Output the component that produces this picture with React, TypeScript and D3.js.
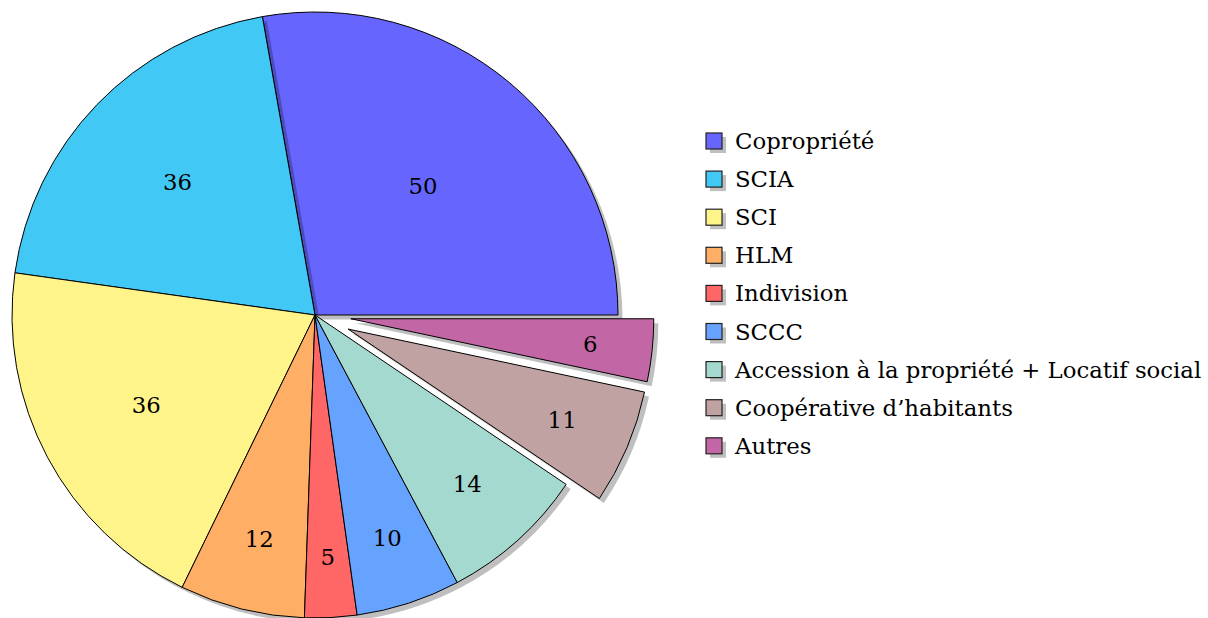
import React from 'react';
import * as d3 from 'd3';

const categories = [
  'Copropriété',
  'SCIA',
  'SCI',
  'HLM',
  'Indivision',
  'SCCC',
  'Accession à la propriété + Locatif social',
  'Coopérative d’habitants',
  'Autres',
];
const values = [50, 36, 36, 12, 5, 10, 14, 11, 6];
const colors = ['#6666ff', '#42c8f4', '#fff48a', '#ffae66', '#ff6666', '#66a3ff', '#a3d9cf', '#c1a2a3', '#c266a6'];
const exploded = [false, false, false, false, false, false, false, true, true];

const width = 1208;
const height = 618;
const cx = 315;
const cy = 315;
const radius = 303;
const explodeBy = 36;
const shadowDx = 4.5;
const shadowDy = 4.5;
const font = 'DejaVu Serif';
const fontSize = 22.8;

type Row = { label: string; value: number; color: string; explode: boolean };

const rows: Row[] = categories.map((label, i) => ({
  label,
  value: values[i],
  color: colors[i],
  explode: exploded[i],
}));

export default function App() {
  // start at 3 o'clock, go counter-clockwise (like pgf-pie)
  const pie = d3
    .pie<Row>()
    .sort(null)
    .value(d => d.value)
    .startAngle(Math.PI / 2)
    .endAngle(Math.PI / 2 - 2 * Math.PI);

  const arc = d3.arc<d3.PieArcDatum<Row>>().innerRadius(0).outerRadius(radius);

  const arcs = pie(rows);

  const legendX = 706;
  const legendY = 141;
  const legendStep = 38.1;
  const box = 16;
  const textStyle = { fontFamily: font };

  return (
    <svg
      width={width}
      height={height}
      style={{ position: 'absolute', left: 0, top: 0, background: '#fff' }}
    >
      <g transform={`translate(${cx},${cy})`}>
        {arcs.map((a, i) => {
          const mid = (a.startAngle + a.endAngle) / 2;
          const off = a.data.explode ? explodeBy : 0;
          const ox = off * Math.sin(mid);
          const oy = -off * Math.cos(mid);
          // label distance depends on slice size, as pgf-pie does
          const spanDeg = (Math.abs(a.endAngle - a.startAngle) * 180) / Math.PI;
          const lr = radius * (0.8 + Math.min((-(spanDeg - 10) / 110) * 0.3, 0));
          const lx = lr * Math.sin(mid);
          const ly = -lr * Math.cos(mid);
          const d = arc(a) || '';
          return (
            <g key={i} transform={`translate(${ox},${oy})`}>
              <path d={d} transform={`translate(${shadowDx},${shadowDy})`} fill="#000" fillOpacity={0.25} />
              <path d={d} fill={a.data.color} stroke="#000" strokeWidth={1} strokeLinejoin="round" />
              <text x={lx} y={ly} textAnchor="middle" dominantBaseline="central" fontSize={fontSize} fill="#000" style={textStyle}>
                {a.data.value}
              </text>
            </g>
          );
        })}
      </g>
      <g>
        {rows.map((r, i) => {
          const y = legendY + i * legendStep;
          return (
            <g key={r.label}>
              <rect x={legendX + 4} y={y - box / 2 + 4} width={box} height={box} fill="#bfbfbf" />
              <rect x={legendX} y={y - box / 2} width={box} height={box} fill={r.color} stroke="#222" strokeWidth={1.2} />
              <text x={legendX + 29} y={y} dominantBaseline="central" fontSize={fontSize} fill="#000" style={textStyle}>
                {r.label}
              </text>
            </g>
          );
        })}
      </g>
    </svg>
  );
}
